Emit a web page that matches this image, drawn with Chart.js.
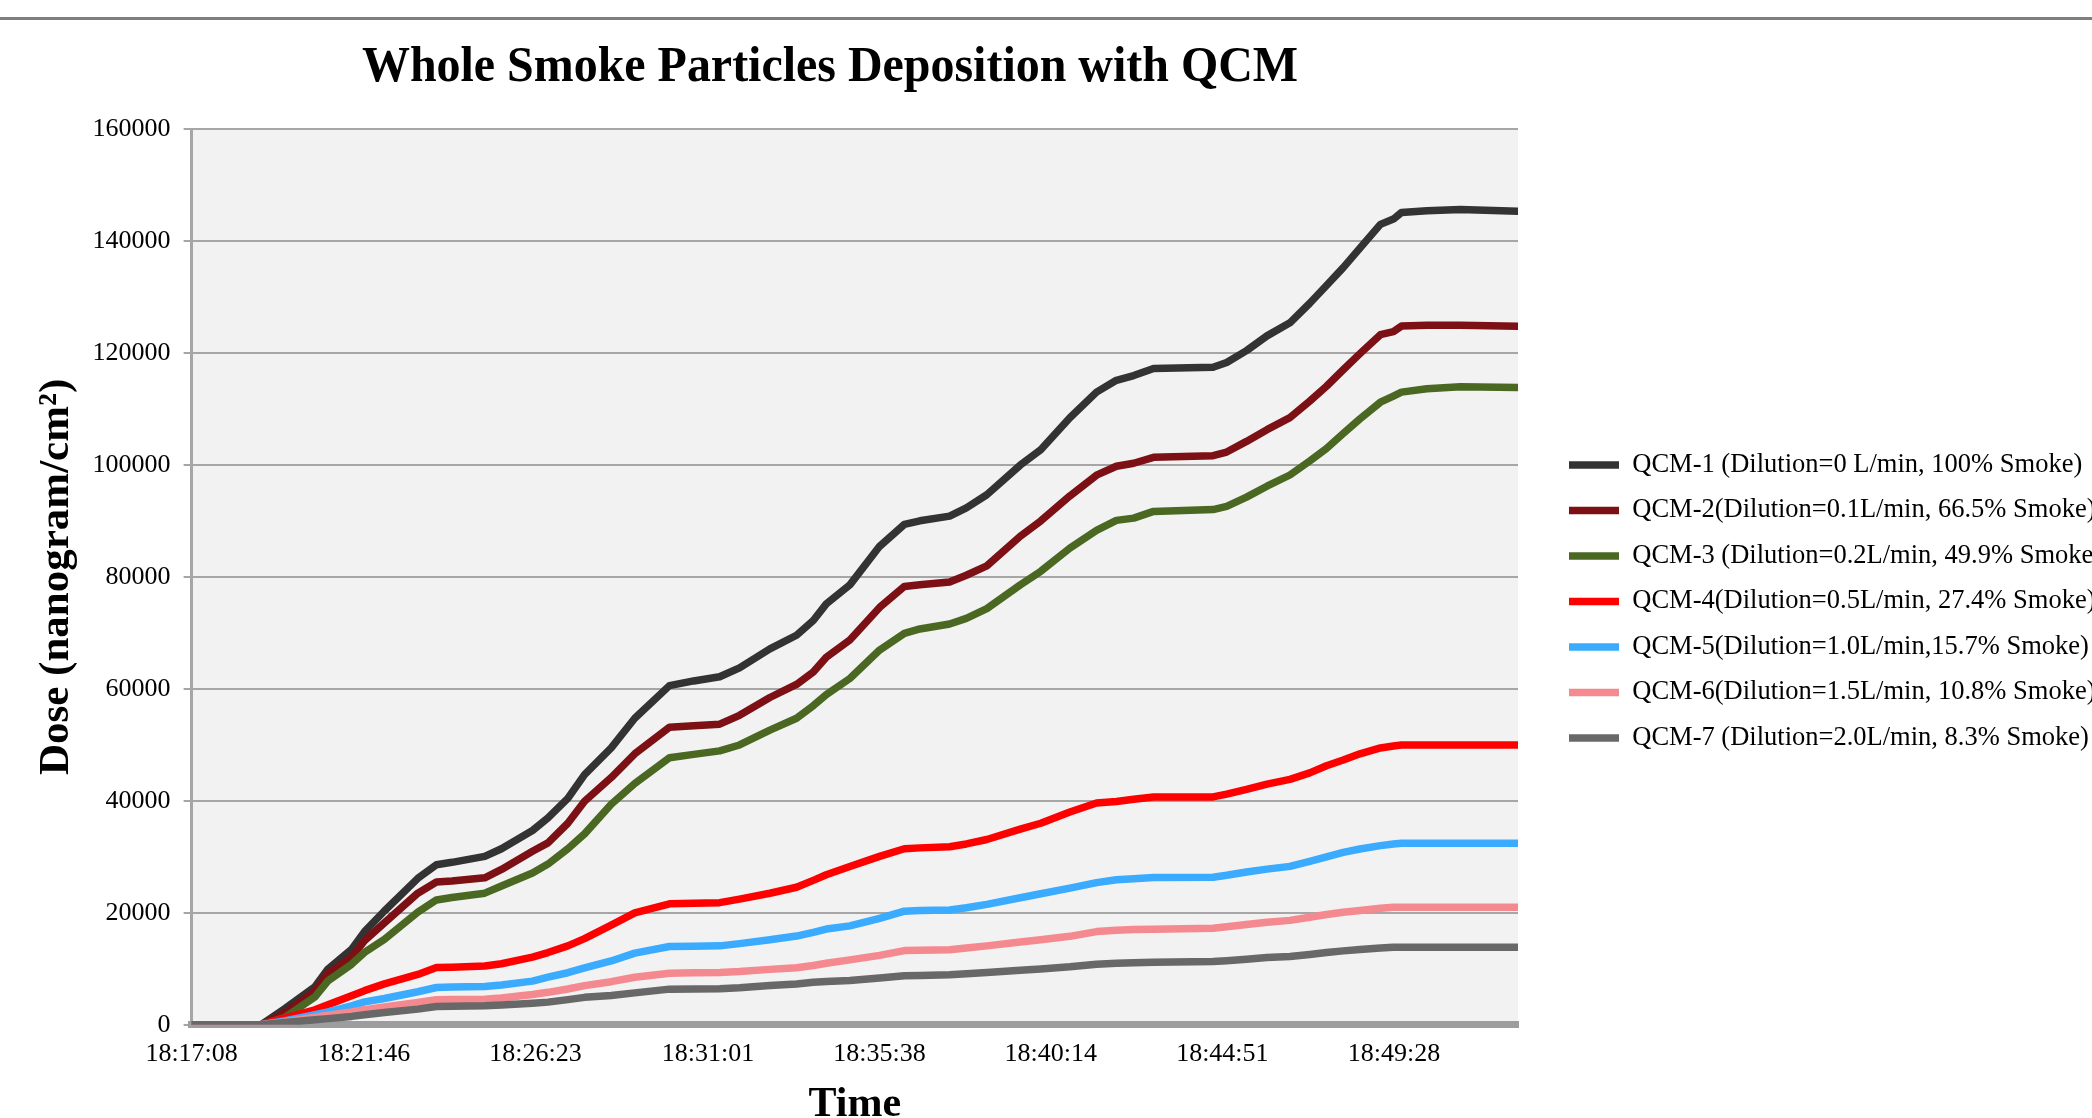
<!DOCTYPE html>
<html>
<head>
<meta charset="utf-8">
<title>Whole Smoke Particles Deposition with QCM</title>
<script src="https://cdn.jsdelivr.net/npm/chart.js@4.4.1/dist/chart.umd.min.js"></script>
<style>
    html, body { margin: 0; padding: 0; background: #ffffff; overflow: hidden; }
    #wrap { position: relative; width: 2092px; height: 1118px; }
    #top-rule { position: absolute; left: 0; top: 17px; width: 2092px; height: 3px; background: #7f7f7f; }
    #qcm-chart { position: absolute; left: 0; top: 0; }
</style>
</head>
<body>
<div id="wrap">
    <canvas id="qcm-chart" width="2092" height="1118"></canvas>
    <div id="top-rule"></div>
</div>
<script>
// Elapsed seconds since 18:17:08 (shared x values for every series)
const timeSec = [0, 112, 150, 199, 220, 258, 279, 311, 365, 395, 420, 473, 500, 550, 575, 607, 634, 677, 715, 771,
    810, 852, 884, 933, 976, 1003, 1024, 1062, 1110, 1150, 1175, 1223, 1250, 1283, 1337, 1370, 1417, 1460, 1492, 1520,
    1552, 1648, 1670, 1702, 1735, 1772, 1804, 1831, 1858, 1885, 1918, 1939, 1952, 1993, 2047, 2140];

// Dose (nanogram/cm2)
const qcm1 = [0, 0, 2860, 6780, 9950, 13450, 16630, 20330, 26160, 28600, 29020, 30080, 31450, 34700, 36960, 40450, 44690, 49450, 54750, 60580,
    61420, 62160, 63750, 67140, 69580, 72220, 75190, 78580, 85460, 89380, 90020, 90860, 92340, 94670, 99970, 102720, 108440, 113000, 115110, 115960,
    117230, 117440, 118290, 120410, 123050, 125380, 128880, 132050, 135230, 138720, 142960, 143910, 145080, 145400, 145610, 145290];
const qcm2 = [0, 0, 2120, 6040, 9210, 12070, 15040, 18210, 23510, 25500, 25700, 26260, 27750, 31000, 32500, 36000, 39920, 44160, 48400, 53160,
    53400, 53690, 55280, 58460, 60790, 63000, 65660, 68730, 74550, 78300, 78600, 79100, 80300, 81970, 87270, 90000, 94460, 98170, 99760, 100300,
    101350, 101660, 102300, 104200, 106300, 108440, 111400, 114050, 117000, 119880, 123270, 123800, 124800, 124950, 124960, 124750];
const qcm3 = [0, 0, 1270, 4980, 7840, 10800, 12920, 15250, 20120, 22300, 22750, 23510, 24780, 27100, 28700, 31450, 34100, 39390, 43100, 47700,
    48300, 48930, 49980, 52630, 54750, 57000, 58990, 61850, 66930, 69900, 70700, 71590, 72600, 74340, 78580, 81000, 85140, 88320, 90100, 90500,
    91700, 92030, 92600, 94250, 96200, 98200, 100700, 102930, 105600, 108230, 111200, 112300, 113000, 113600, 113950, 113840];
const qcm4 = [0, 0, 1200, 2680, 3600, 5200, 6100, 7300, 9000, 10230, 10300, 10500, 10900, 12100, 12900, 14100, 15400, 17800, 20000, 21600,
    21700, 21820, 22450, 23500, 24570, 25800, 26800, 28280, 30080, 31450, 31600, 31800, 32300, 33100, 34950, 36000, 38020, 39610, 39900, 40300,
    40700, 40700, 41200, 42040, 43000, 43840, 45000, 46280, 47300, 48400, 49450, 49800, 49980, 49980, 49980, 49980];
const qcm5 = [0, 0, 700, 1790, 2300, 3400, 4100, 4700, 5900, 6660, 6750, 6840, 7100, 7800, 8500, 9300, 10150, 11400, 12800, 13980,
    14050, 14100, 14500, 15200, 15850, 16500, 17100, 17670, 19000, 20300, 20400, 20500, 20900, 21500, 22700, 23400, 24400, 25400, 25900, 26100,
    26300, 26350, 26700, 27300, 27800, 28300, 29200, 30000, 30800, 31400, 32000, 32300, 32430, 32430, 32430, 32430];
const qcm6 = [0, 0, 500, 1370, 1700, 2300, 2700, 3200, 4000, 4460, 4500, 4580, 4800, 5400, 5800, 6400, 7000, 7700, 8500, 9220,
    9280, 9340, 9500, 9900, 10200, 10600, 11000, 11600, 12400, 13250, 13300, 13390, 13700, 14100, 14800, 15200, 15800, 16650, 16900, 17000,
    17080, 17260, 17500, 17900, 18300, 18650, 19200, 19700, 20100, 20400, 20800, 21000, 21000, 21000, 21000, 21000];
const qcm7 = [0, 0, 400, 890, 1100, 1500, 1790, 2200, 2800, 3270, 3300, 3390, 3550, 3850, 4050, 4500, 4900, 5250, 5700, 6370,
    6400, 6430, 6600, 7000, 7300, 7600, 7750, 7910, 8350, 8750, 8820, 8930, 9100, 9350, 9750, 9950, 10350, 10830, 11000, 11100,
    11190, 11300, 11450, 11700, 12000, 12200, 12550, 12900, 13200, 13450, 13700, 13860, 13860, 13860, 13860, 13860];

const seriesLabels = [
    'QCM-1 (Dilution=0 L/min, 100% Smoke)',
    'QCM-2(Dilution=0.1L/min, 66.5% Smoke)',
    'QCM-3 (Dilution=0.2L/min, 49.9% Smoke)',
    'QCM-4(Dilution=0.5L/min, 27.4% Smoke)',
    'QCM-5(Dilution=1.0L/min,15.7% Smoke)',
    'QCM-6(Dilution=1.5L/min, 10.8% Smoke)',
    'QCM-7 (Dilution=2.0L/min, 8.3% Smoke)'
];
const seriesColors = ['#333333', '#7c1014', '#4a6822', '#ff0000', '#3aabff', '#f4898f', '#686868'];
const seriesValues = [qcm1, qcm2, qcm3, qcm4, qcm5, qcm6, qcm7];

// X tick positions (seconds) and their clock labels
const tickSeconds = [0, 278, 555, 833, 1110, 1386, 1663, 1940];
const tickLabels = ['18:17:08', '18:21:46', '18:26:23', '18:31:01', '18:35:38', '18:40:14', '18:44:51', '18:49:28'];

const titleText = 'Whole Smoke Particles Deposition with QCM';
const serif = '"Liberation Serif", "Times New Roman", serif';

Chart.defaults.font.family = serif;
Chart.defaults.color = '#000000';

// Page white + grey plot area
const plotBackground = {
    id: 'plotBackground',
    beforeDraw(chart) {
        const { ctx, chartArea } = chart;
        ctx.save();
        ctx.fillStyle = '#ffffff';
        ctx.fillRect(0, 0, chart.width, chart.height);
        ctx.fillStyle = '#f2f2f2';
        ctx.fillRect(chartArea.left, chartArea.top, chartArea.right - chartArea.left, chartArea.bottom - chartArea.top);
        ctx.restore();
    }
};

// Title sits over the plot, a bit left of the canvas centre, slightly condensed
const chartTitle = {
    id: 'chartTitle',
    afterDraw(chart) {
        const ctx = chart.ctx;
        ctx.save();
        ctx.translate(830, 68);
        ctx.scale(0.94, 1);
        ctx.font = 'bold 51px ' + serif;
        ctx.fillStyle = '#000000';
        ctx.textAlign = 'center';
        ctx.textBaseline = 'middle';
        ctx.fillText(titleText, 0, 0);
        ctx.restore();
    }
};

// Leave a gap between plot and legend and let the legend run off the right edge
const legendShift = {
    id: 'legendShift',
    afterLayout(chart) {
        const legend = chart.legend;
        if (!legend) { return; }
        legend.left = chart.chartArea.right + 32;
        legend.right = chart.width + 200;
        legend.width = legend.right - legend.left;
    }
};

const datasets = seriesValues.map((vals, i) => ({
    label: seriesLabels[i],
    data: timeSec.map((t, j) => ({ x: t, y: vals[j] })),
    borderColor: seriesColors[i],
    backgroundColor: seriesColors[i],
    borderWidth: 7.5,
    borderCapStyle: 'round',
    borderJoinStyle: 'round',
    pointRadius: 0,
    tension: 0,
    fill: false,
    order: seriesValues.length - 1 - i   // later series drawn on top, like the original
}));

new Chart(document.getElementById('qcm-chart'), {
    type: 'line',
    data: { datasets: datasets },
    plugins: [plotBackground, chartTitle, legendShift],
    options: {
        responsive: false,
        animation: false,
        devicePixelRatio: 1,
        layout: { padding: { left: 25, right: 274, top: 129, bottom: 0 } },
        plugins: {
            title: { display: false },
            tooltip: { enabled: false },
            legend: {
                position: 'right',
                fullSize: false,
                maxWidth: 300,
                title: { display: true, text: '', font: { size: 1 }, padding: { top: 48, bottom: 0 } },
                labels: {
                    usePointStyle: true,
                    pointStyle: 'line',
                    pointStyleWidth: 50,
                    padding: 19,
                    color: '#000000',
                    font: { family: serif, size: 26.5 },
                    sort: (a, b) => a.datasetIndex - b.datasetIndex
                }
            }
        },
        scales: {
            x: {
                type: 'linear',
                position: 'bottom',
                min: 0,
                max: 2140,
                afterBuildTicks: (axis) => {
                    axis.ticks = tickSeconds.map(v => ({ value: v }));
                },
                ticks: {
                    autoSkip: false,
                    maxRotation: 0,
                    padding: 14,
                    color: '#000000',
                    font: { family: serif, size: 26, lineHeight: 1.154 },
                    callback: (value, index) => tickLabels[index]
                },
                grid: { display: false, drawTicks: false },
                border: { display: true, color: '#9d9d9d', width: 7 },
                title: {
                    display: true,
                    text: 'Time',
                    color: '#000000',
                    font: { family: serif, size: 42, weight: 'bold', lineHeight: 0.6 },
                    padding: { top: 10, bottom: 0 }
                }
            },
            y: {
                position: 'left',
                min: 0,
                max: 160000,
                ticks: {
                    stepSize: 20000,
                    padding: 13,
                    color: '#000000',
                    font: { family: serif, size: 26 },
                    callback: (value) => String(value)
                },
                grid: { color: '#a6a6a6', lineWidth: 2, tickLength: 8, drawTicks: true },
                border: { display: true, color: '#a6a6a6', width: 3 },
                title: {
                    display: true,
                    text: 'Dose (nanogram/cm²)',
                    color: '#000000',
                    font: { family: serif, size: 43, weight: 'bold' },
                    padding: { top: 6, bottom: -3 }
                }
            }
        }
    }
});
</script>
</body>
</html>
